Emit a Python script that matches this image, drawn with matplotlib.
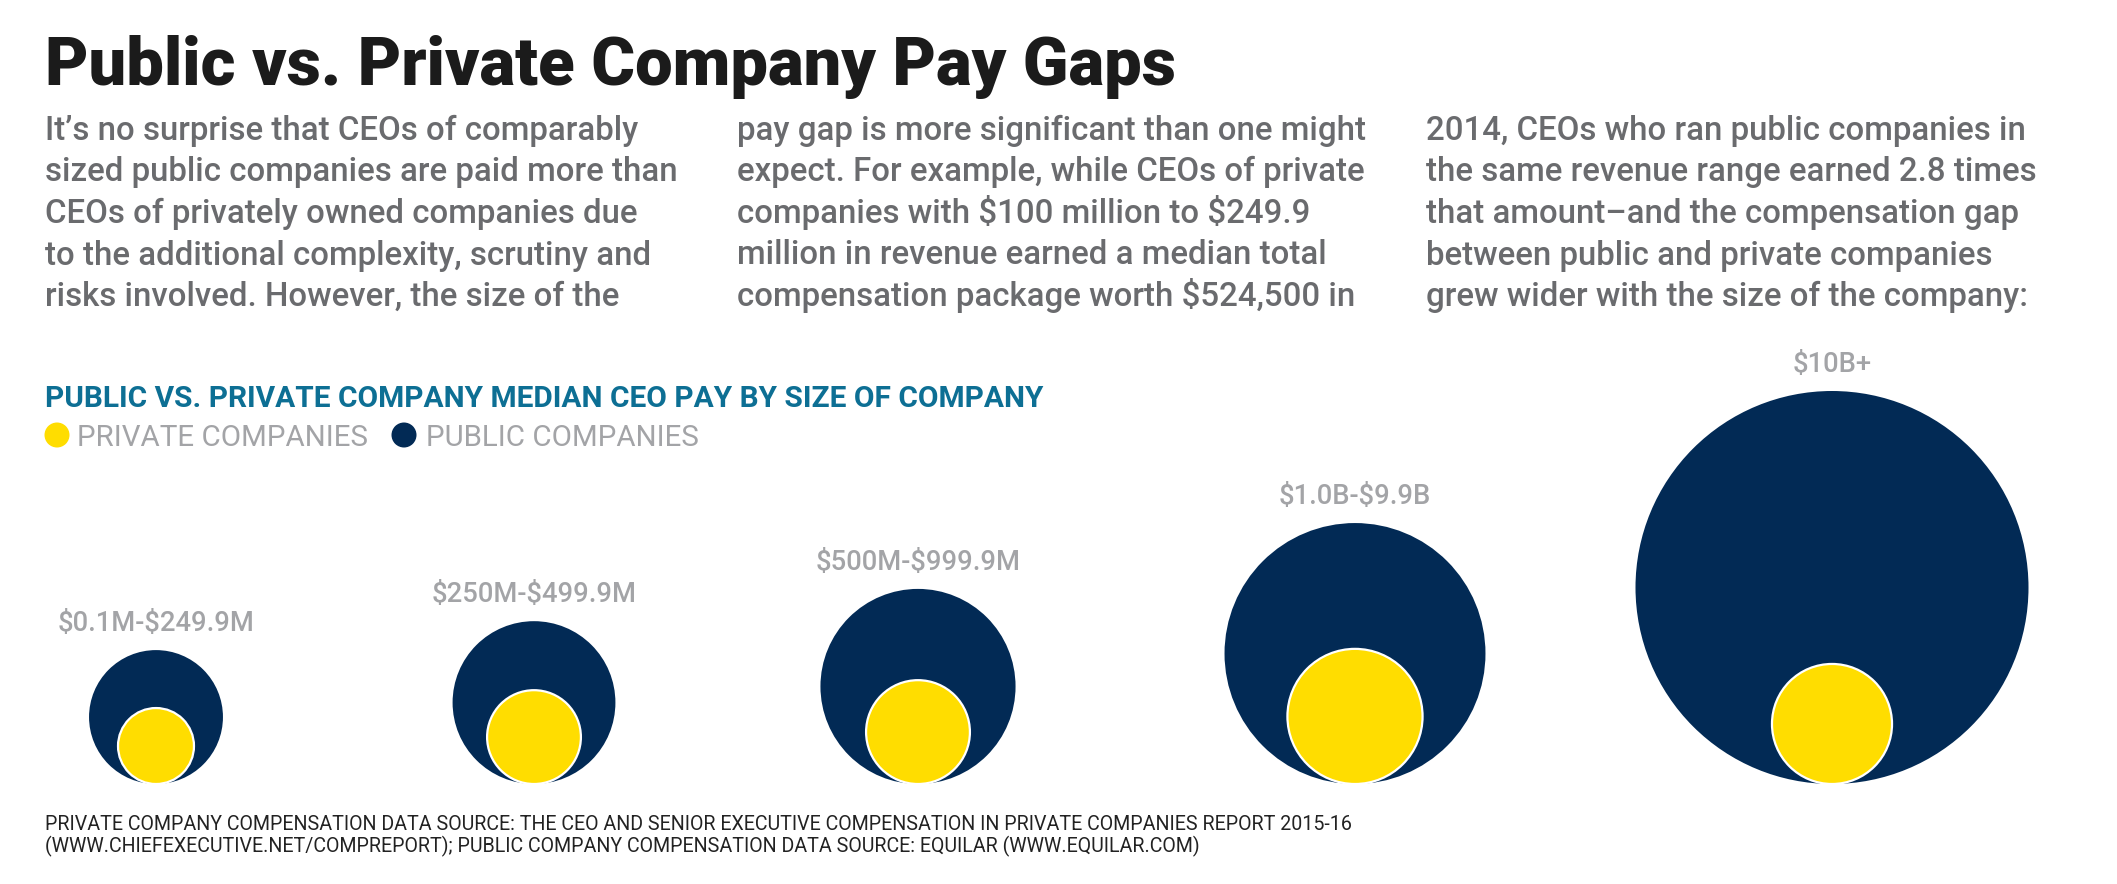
import numpy as np
import matplotlib
matplotlib.use("Agg")
import matplotlib.pyplot as plt
from matplotlib.patches import Circle
from matplotlib import font_manager

plt.rcParams["text.parse_math"] = False

# median CEO pay, $ millions
sizes = ["$0.1M-$249.9M", "$250M-$499.9M", "$500M-$999.9M", "$1.0B-$9.9B", "$10B+"]
private_pay = [0.5245, 0.80, 0.98, 1.66, 1.31]
public_pay = [1.63, 2.41, 3.46, 6.19, 14.04]

title = "Public vs. Private Company Pay Gaps"
body = [
    ["It\u2019s no surprise that CEOs of comparably",
     "sized public companies are paid more than",
     "CEOs of privately owned companies due",
     "to the additional complexity, scrutiny and",
     "risks involved. However, the size of the"],
    ["pay gap is more significant than one might",
     "expect. For example, while CEOs of private",
     "companies with $100 million to $249.9",
     "million in revenue earned a median total",
     "compensation package worth $524,500 in"],
    ["2014, CEOs who ran public companies in",
     "the same revenue range earned 2.8 times",
     "that amount\u2013and the compensation gap",
     "between public and private companies",
     "grew wider with the size of the company:"],
]
subtitle = "PUBLIC VS. PRIVATE COMPANY MEDIAN CEO PAY BY SIZE OF COMPANY"
legend_labels = ["PRIVATE COMPANIES", "PUBLIC COMPANIES"]
footer = [
    "PRIVATE COMPANY COMPENSATION DATA SOURCE: THE CEO AND SENIOR EXECUTIVE COMPENSATION IN PRIVATE COMPANIES REPORT 2015-16",
    "(WWW.CHIEFEXECUTIVE.NET/COMPREPORT); PUBLIC COMPANY COMPENSATION DATA SOURCE: EQUILAR (WWW.EQUILAR.COM)",
]

NAVY = "#022a55"
YELLOW = "#ffdd00"
TEAL = "#0d6f94"
BODY_GRAY = "#6a6b6e"
LIGHT_GRAY = "#a3a4a7"

names = {f.name for f in font_manager.fontManager.ttflist}
narrow = "Liberation Sans Narrow" if "Liberation Sans Narrow" in names else "Roboto"
heavy = "Roboto"

W, H = 2117, 884
fig = plt.figure(figsize=(W / 100, H / 100), dpi=100)
fig.patch.set_facecolor("white")
ax = fig.add_axes([0, 0, 1, 1])
ax.set_xlim(0, W)
ax.set_ylim(H, 0)
ax.axis("off")
renderer = fig.canvas.get_renderer()


def put(x, y, s, **kw):
    kw.setdefault("va", "baseline")
    return ax.text(x, y, s, **kw)


def fit(txt, width):
    bb = txt.get_window_extent(renderer)
    txt.set_fontsize(txt.get_fontsize() * width / bb.width)
    return txt.get_fontsize()


# title
t = put(45, 85, title, fontsize=40, family=heavy, weight="black", color="#1b1b1b")
fit(t, 1130)

# body text in three columns
col_x = [45, 737, 1426]
probe = put(0, -100, body[0][1], fontsize=20, family=narrow, weight="medium", color=BODY_GRAY)
body_fs = fit(probe, 634)
probe.remove()
for cx, lines in zip(col_x, body):
    for i, line in enumerate(lines):
        put(cx, 140 + i * 41.5, line, fontsize=body_fs, family=narrow, weight="medium",
            color=BODY_GRAY)

# chart heading + legend
s = put(45, 407, subtitle, fontsize=20, family=narrow, weight="bold", color=TEAL)
fit(s, 1000)

l1 = put(77, 446, legend_labels[0], fontsize=20, family=narrow, color=LIGHT_GRAY)
leg_fs = fit(l1, 291)
put(426, 446, legend_labels[1], fontsize=leg_fs, family=narrow, color=LIGHT_GRAY)
ax.add_patch(Circle((57, 435), 12.5, color=YELLOW, lw=0))
ax.add_patch(Circle((404, 435), 12.5, color=NAVY, lw=0))

# nested bubbles, area ~ pay, bottoms aligned
centers = [156, 534, 918, 1355, 1832]
base = 784
max_d = 393
scale = max_d / 2 / np.sqrt(max(public_pay))

probe = put(0, -100, sizes[0], fontsize=20, family=narrow, weight="medium", color=LIGHT_GRAY)
lab_fs = fit(probe, 197)
probe.remove()

for cx, lab, pv, pb in zip(centers, sizes, private_pay, public_pay):
    r_pub = scale * np.sqrt(pb)
    r_pri = scale * np.sqrt(pv)
    ax.add_patch(Circle((cx, base - r_pub), r_pub, facecolor=NAVY, edgecolor="none", zorder=2))
    ax.add_patch(Circle((cx, base - r_pri), r_pri, facecolor=YELLOW, edgecolor="white",
                        lw=1.6, zorder=3))
    put(cx, base - 2 * r_pub - 19, lab, ha="center", fontsize=lab_fs, family=narrow,
        weight="medium", color=LIGHT_GRAY)

# source note
f1 = put(45, 830, footer[0], fontsize=12, family=narrow, color="#222222")
foot_fs = fit(f1, 1302)
put(45, 852, footer[1], fontsize=foot_fs, family=narrow, color="#222222")

fig.savefig("out.png", dpi=100, facecolor="white")
